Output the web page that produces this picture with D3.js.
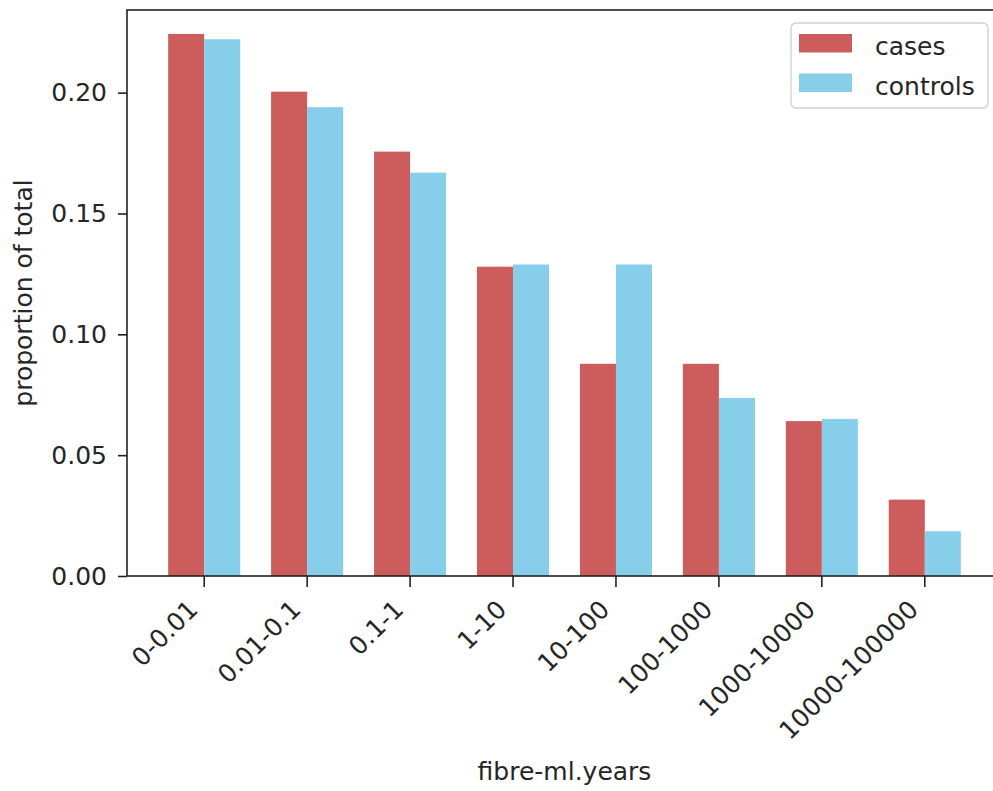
<!DOCTYPE html>
<html>
<head>
<meta charset="utf-8">
<script src="https://cdn.jsdelivr.net/npm/d3@7"></script>
<style>
  html, body { margin: 0; padding: 0; background: #fff; }
  svg { display: block; }
  text { font-family: "DejaVu Sans", sans-serif; fill: #262626; }
</style>
</head>
<body>
<svg id="chart" width="993" height="791"></svg>
<script>
const categories = ["0-0.01", "0.01-0.1", "0.1-1", "1-10", "10-100", "100-1000", "1000-10000", "10000-100000"];
const cases    = [0.2243, 0.2004, 0.1756, 0.1280, 0.0878, 0.0878, 0.0641, 0.0316];
const controls = [0.2221, 0.1940, 0.1669, 0.1289, 0.1289, 0.0737, 0.0650, 0.0185];
const seriesNames = ["cases", "controls"];
const seriesColors = ["#CD5C5C", "#87CEEB"];
const yTicks = [0.00, 0.05, 0.10, 0.15, 0.20];
const yLabel = "proportion of total";
const xLabel = "fibre-ml.years";

const svg = d3.select("#chart");
const pLeft = 127, pRight = 1002, pTop = 10, pBottom = 576;
const fontSize = 25;

const x = d3.scaleBand().domain(categories).range([pLeft, pRight])
  .paddingInner(0).paddingOuter(0.25).align(0.5);
const y = d3.scaleLinear().domain([0, 0.2342]).range([pBottom, pTop]);
const bw = x.step() * 0.35;
const cx = c => x(c) + x.bandwidth() / 2;

// bars
const series = [cases, controls];
series.forEach((vals, si) => {
  svg.append("g").selectAll("rect")
    .data(categories.map((c, i) => ({c, v: vals[i]})))
    .join("rect")
    .attr("x", d => si === 0 ? cx(d.c) - bw : cx(d.c))
    .attr("y", d => y(d.v))
    .attr("width", bw)
    .attr("height", d => y(0) - y(d.v))
    .attr("fill", seriesColors[si]);
});

// frame
svg.append("rect")
  .attr("x", pLeft).attr("y", pTop)
  .attr("width", pRight - pLeft).attr("height", pBottom - pTop)
  .attr("fill", "none").attr("stroke", "#222").attr("stroke-width", 1.6);

// y axis
const yAxis = svg.append("g").attr("transform", `translate(${pLeft},0)`)
  .call(d3.axisLeft(y).tickValues(yTicks).tickFormat(d3.format(".2f")).tickSize(9).tickPadding(11));
yAxis.select(".domain").remove();
yAxis.selectAll("line").attr("stroke", "#222").attr("stroke-width", 1.6);
yAxis.selectAll("text").attr("font-size", fontSize).attr("fill", "#262626")
  .style("font-family", "DejaVu Sans");

// x axis
const xAxis = svg.append("g").attr("transform", `translate(0,${pBottom})`)
  .call(d3.axisBottom(x).tickSize(11));
xAxis.select(".domain").remove();
xAxis.selectAll("line").attr("stroke", "#222").attr("stroke-width", 1.6);
xAxis.selectAll("text")
  .attr("y", null).attr("dy", null)
  .attr("text-anchor", "end")
  .attr("font-size", fontSize).attr("fill", "#262626")
  .style("font-family", "DejaVu Sans")
  .attr("transform", "translate(-5,35) rotate(-45)");

// axis labels
svg.append("text")
  .attr("transform", `translate(32,${(pTop + pBottom) / 2}) rotate(-90)`)
  .attr("text-anchor", "middle").attr("font-size", fontSize)
  .text(yLabel);
svg.append("text")
  .attr("x", (pLeft + pRight) / 2).attr("y", 780)
  .attr("text-anchor", "middle").attr("font-size", fontSize)
  .text(xLabel);

// legend
const lg = svg.append("g");
lg.append("rect")
  .attr("x", 791).attr("y", 23).attr("width", 197).attr("height", 85)
  .attr("rx", 5).attr("ry", 5)
  .attr("fill", "#fff").attr("fill-opacity", 0.8)
  .attr("stroke", "#d0d0d0").attr("stroke-width", 1.3);
seriesNames.forEach((name, i) => {
  lg.append("rect")
    .attr("x", 799).attr("y", 34 + i * 39.5)
    .attr("width", 53).attr("height", 18.5)
    .attr("fill", seriesColors[i]);
  lg.append("text")
    .attr("x", 875).attr("y", 55 + i * 39.5)
    .attr("font-size", fontSize)
    .text(name);
});
</script>
</body>
</html>
